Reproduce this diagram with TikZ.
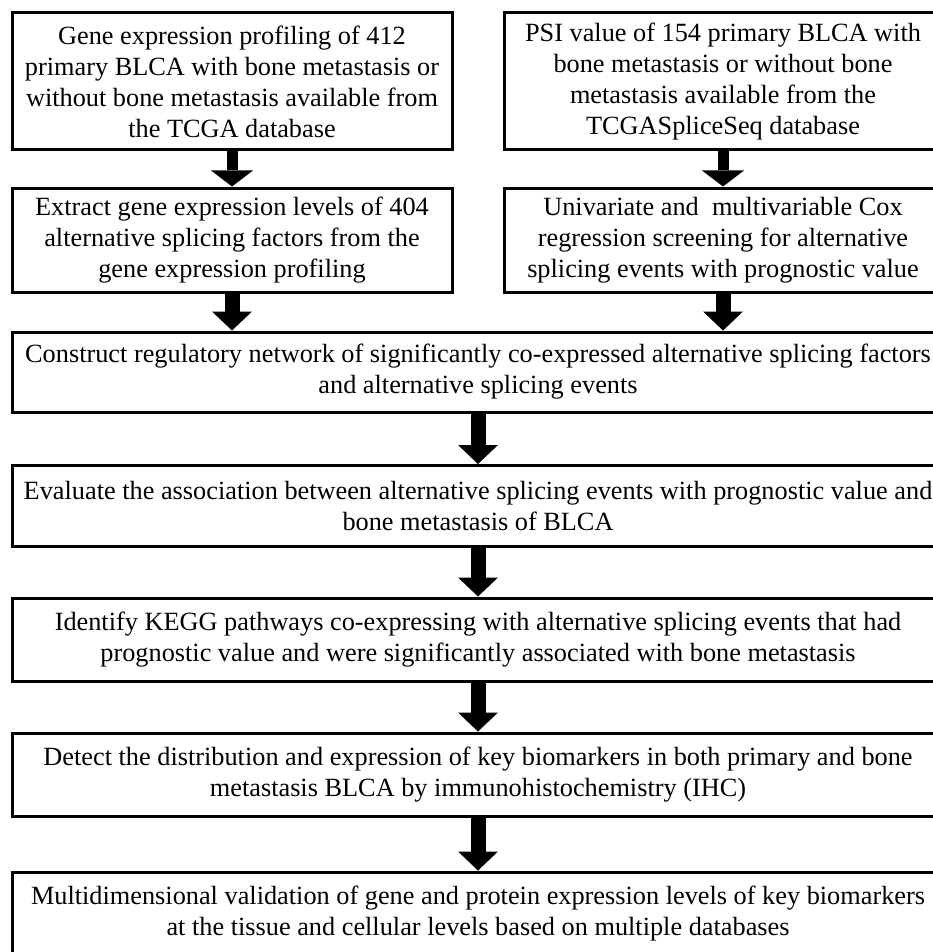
\documentclass[tikz,border=0pt]{standalone}
\usepackage{fontspec}
\setmainfont{Liberation Serif}
\usetikzlibrary{arrows.meta}
\tikzset{
	stepbox/.style={draw=black, line width=3pt, align=center, inner sep=0pt,
		font=\fontsize{26.3}{31}\selectfont},
	flowarrow/.style={line width=15pt, -{Triangle[width=40pt,length=19pt,line width=0pt]}},
	smallarrow/.style={line width=11pt, -{Triangle[width=42pt,length=16pt,line width=0pt]}},
}
\begin{document}
	\begin{tikzpicture}[x=1pt,y=1pt,yscale=-1,xscale=1]
		\useasboundingbox (0,0) rectangle (933,952);
		\clip (0,0) rectangle (933,952);

		% Top row
		\node (gexp) [stepbox, minimum width=440pt, minimum height=137pt] at (232,81.5)
			{Gene expression profiling of 412\\ primary BLCA with bone metastasis or\\ without bone metastasis available from\\ the TCGA database};
		\node (psi) [stepbox, minimum width=438pt, minimum height=137pt] at (723,81.5)
			{PSI value of 154 primary BLCA with\\ bone metastasis or without bone\\ metastasis available from the\\ TCGASpliceSeq database};

		% Second row
		\node (extract) [stepbox, minimum width=440pt, minimum height=104pt] at (232,240)
			{Extract gene expression levels of 404\\ alternative splicing factors from the\\ gene expression profiling};
		\node (cox) [stepbox, minimum width=438pt, minimum height=104pt] at (723,240)
			{Univariate and\ \ multivariable Cox\\ regression screening for alternative\\ splicing events with prognostic value};

		% Full width steps
		\node (network) [stepbox, minimum width=932pt, minimum height=80pt] at (478,372)
			{Construct regulatory network of significantly co-expressed alternative splicing factors\\ and alternative splicing events};
		\node (assoc) [stepbox, minimum width=932pt, minimum height=81pt] at (478,506)
			{Evaluate the association between alternative splicing events with prognostic value and\\ bone metastasis of BLCA};
		\node (kegg) [stepbox, minimum width=932pt, minimum height=83pt] at (478,639.5)
			{Identify KEGG pathways co-expressing with alternative splicing events that had\\ prognostic value and were significantly associated with bone metastasis};
		\node (ihc) [stepbox, minimum width=932pt, minimum height=83pt] at (478,774.5)
			{Detect the distribution and expression of key biomarkers in both primary and bone\\ metastasis BLCA by immunohistochemistry (IHC)};
		\node (valid) [stepbox, minimum width=932pt, minimum height=83pt] at (478,913.5)
			{Multidimensional validation of gene and protein expression levels of key biomarkers\\ at the tissue and cellular levels based on multiple databases};

		% Arrows
		\draw [smallarrow] (gexp.south) -- (extract.north);
		\draw [smallarrow] (psi.south) -- (cox.north);
		\draw [flowarrow] (extract.south) -- (extract.south |- network.north);
		\draw [flowarrow] (cox.south) -- (cox.south |- network.north);
		\draw [flowarrow] (network.south) -- (assoc.north);
		\draw [flowarrow] (assoc.south) -- (kegg.north);
		\draw [flowarrow] (kegg.south) -- (ihc.north);
		\draw [flowarrow] (ihc.south) -- (valid.north);

	\end{tikzpicture}
\end{document}
